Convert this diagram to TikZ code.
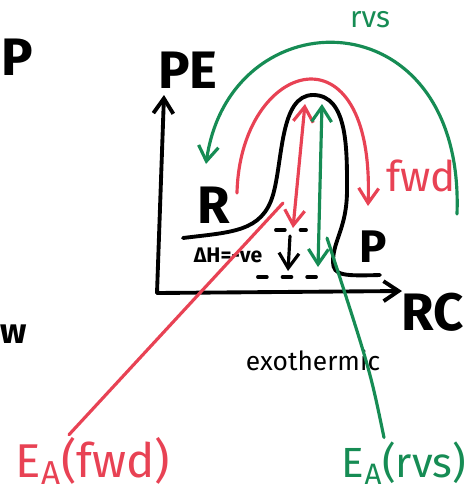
\documentclass[tikz,border=0pt]{standalone}
\usepackage{fontspec}
\setmainfont{Fira Sans}
\usepackage{tikz}
\usetikzlibrary{positioning,arrows.meta}
\usepackage{xcolor}
\definecolor{redink}{RGB}{232,66,84}
\definecolor{greenink}{RGB}{22,140,84}

\begin{document}
\begin{tikzpicture}[x={(0.02cm,0cm)},y={(0cm,-0.02cm)},>={Straight Barb[length=3mm,width=4mm]},
  ink/.style={line width=2.2pt,line cap=round,line join=round},
  redpen/.style={ink,draw=redink,line width=1.8pt},
  greenpen/.style={ink,draw=greenink,line width=1.8pt},
  big/.style={font=\bfseries\fontsize{30}{32}\selectfont,inner sep=0pt}]
\useasboundingbox (0,0) rectangle (474,497);
% letters at the left edge
\node[big] (cutP) at (17,57) {P};
\node[font=\bfseries\fontsize{20}{22}\selectfont,inner sep=0pt] (cutw) at (14,334) {w};
% axes
\coordinate (O) at (157,293);
\coordinate (ytop) at (164,95);
\coordinate (xend) at (402,291);
\draw[ink,->] (O) -- (ytop);
\draw[ink,->] (O) -- (xend);
\node[big] (PE) at (188,70) {PE};
\node[big] (RC) at (433,312) {RC};
% energy profile
\draw[ink] (183,238) .. controls (232,232) and (262,232) .. (273,195)
  .. controls (283,160) and (280,95) .. (313,95)
  .. controls (348,95) and (347,150) .. (347,190)
  .. controls (347,228) and (333,240) .. (333,262)
  .. controls (333,276) and (345,276) .. (380,275);
\node[big] (R) at (214,205) {R};
\node[big,font=\bfseries\fontsize{26}{28}\selectfont] (P) at (373,247) {P};
% enthalpy change
\draw[ink,dash pattern=on 5pt off 9pt] (276,230) -- (306,230);
\draw[ink,dash pattern=on 5pt off 9pt] (258,277) -- (316,277);
\coordinate (dHtop) at (290,236);
\coordinate (dHbot) at (288,271);
\draw[ink,->,line width=1.8pt] (dHtop) -- (dHbot);
\node[font=\bfseries\fontsize{12}{14}\selectfont,inner sep=0pt] (dH) at (228,255) {ΔH=-ve};
% activation energies
\coordinate (peakF) at (305,104);
\coordinate (baseF) at (293,228);
\coordinate (peakR) at (322,104);
\coordinate (baseR) at (318,267);
\draw[redpen,<->] (baseF) -- (peakF);
\draw[greenpen,<->] (baseR) -- (peakR);
% forward and reverse sweeps
\coordinate (fwdS) at (237,193);
\coordinate (fwdE) at (368,206);
\coordinate (rvsS) at (457,214);
\coordinate (rvsE) at (206,164);
\draw[redpen,->] (fwdS) .. controls (240,60) and (375,20) .. (fwdE);
\draw[greenpen,->] (rvsS) .. controls (465,-5) and (230,-5) .. (rvsE);
\node[text=redink,font=\fontsize{24}{26}\selectfont,inner sep=0pt] (fwd) at (421,176) {fwd};
\node[text=greenink,font=\fontsize{17}{19}\selectfont,inner sep=0pt] (rvs) at (370,20) {rvs};
% labels
\node[font=\fontsize{15}{17}\selectfont,inner sep=0pt] (exo) at (313,360) {exothermic};
\node[text=redink,font=\fontsize{27}{29}\selectfont,inner sep=0pt] (EAf) at (93,461) {E\textsubscript{A}(fwd)};
\node[text=greenink,font=\fontsize{24}{26}\selectfont,inner sep=0pt] (EAr) at (404,463) {E\textsubscript{A}(rvs)};
\coordinate (tipF) at (283,203);
\coordinate (tipR) at (327,238);
\draw[redpen] (EAf.north) ++(-24,-2) coordinate (EAfT) -- (tipF);
\draw[greenpen] (EAr.north) ++(-20,-4) coordinate (EArT) .. controls (370,370) .. (tipR);
\end{tikzpicture}
\end{document}
